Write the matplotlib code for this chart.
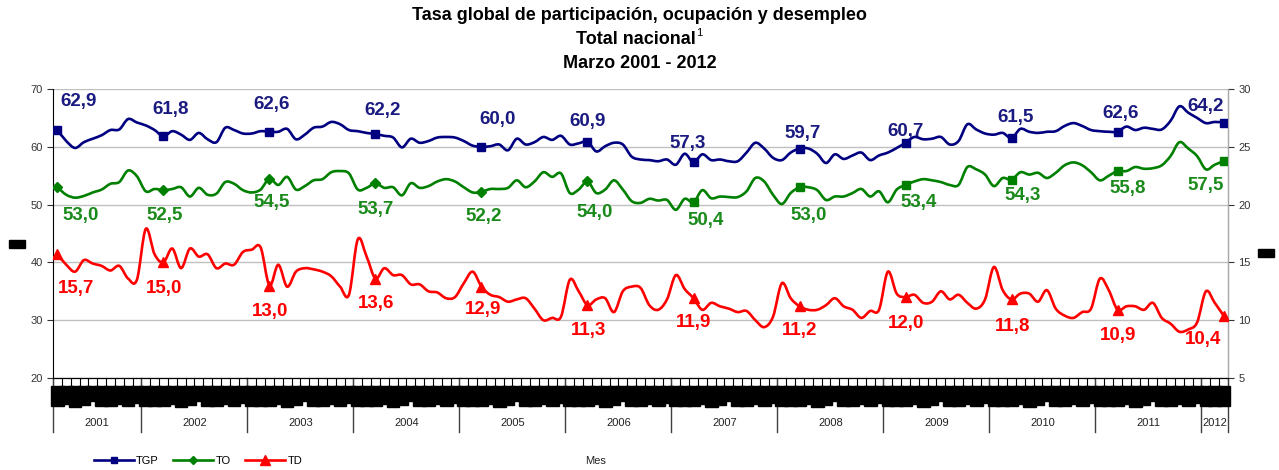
import numpy as np
import matplotlib
matplotlib.use("Agg")
import matplotlib.pyplot as plt
import matplotlib.transforms as mtransforms
from matplotlib.lines import Line2D
from matplotlib.path import Path
from matplotlib.patches import PathPatch

# ============================================================
# DATOS (marzo 2001 - marzo 2012, mensual)
# ============================================================

meses_abrev = ["Mar", "Abr", "May", "Jun", "Jul", "Ago", "Sep", "Oct", "Nov", "Dic", "Ene", "Feb"]
anios = ["2001", "2002", "2003", "2004", "2005", "2006", "2007", "2008", "2009", "2010", "2011", "2012"]

tgp = [62.9, 61.0, 59.8, 60.8, 61.4, 62.0, 62.9, 63.0, 64.8, 64.2, 63.7, 62.9,
       61.8, 62.7, 62.1, 61.2, 62.4, 61.3, 60.8, 63.3, 62.9, 62.3, 62.3, 62.7,
       62.6, 62.6, 63.1, 61.3, 62.1, 63.3, 63.5, 64.3, 63.9, 62.9, 62.7, 62.4,
       62.2, 61.9, 61.6, 59.9, 61.4, 60.7, 61.0, 61.6, 61.7, 61.6, 61.0, 60.2,
       60.0, 60.1, 60.4, 59.4, 61.4, 60.4, 60.8, 61.7, 61.2, 61.9, 60.4, 60.6,
       60.9, 59.2, 60.1, 60.7, 60.4, 58.3, 57.8, 57.7, 57.5, 57.8, 56.9, 58.8,
       57.3, 58.7, 57.7, 57.8, 57.5, 57.5, 59.0, 60.7, 59.7, 58.1, 57.7, 59.0,
       59.7, 59.7, 58.8, 57.2, 58.7, 57.9, 58.5, 59.0, 57.7, 58.5, 59.0, 59.8,
       60.7, 61.7, 61.3, 61.4, 61.7, 60.4, 61.0, 63.9, 63.0, 62.3, 62.1, 62.4,
       61.5, 63.1, 62.6, 62.4, 62.6, 62.7, 63.6, 64.1, 63.6, 62.9, 62.7, 62.6,
       62.6, 63.5, 62.9, 63.3, 63.1, 63.0, 64.5, 67.0, 65.9, 65.0, 64.1, 64.3,
       64.2]

to = [53.0, 51.7, 51.2, 51.5, 52.1, 52.6, 53.6, 53.9, 55.9, 54.9, 52.3, 52.7,
      52.5, 52.7, 53.0, 51.4, 52.9, 51.7, 51.9, 53.9, 53.6, 52.5, 52.1, 52.6,
      54.5, 53.4, 54.8, 52.6, 53.2, 54.2, 54.4, 55.6, 55.8, 55.4, 52.6, 52.9,
      53.7, 52.9, 53.0, 51.6, 53.7, 52.9, 53.2, 54.0, 54.4, 54.0, 53.0, 52.1,
      52.2, 52.7, 52.7, 52.9, 54.2, 53.0, 54.0, 55.6, 54.8, 55.4, 52.0, 52.6,
      54.0, 52.0, 52.6, 54.2, 52.6, 50.6, 50.3, 51.0, 50.7, 50.8, 49.1, 51.0,
      50.4, 52.5, 51.1, 51.4, 51.3, 51.3, 52.3, 54.6, 54.0, 51.7, 50.1, 52.0,
      53.0, 53.0, 52.5, 50.8, 51.4, 51.4, 52.0, 52.7, 51.4, 52.3, 50.4, 52.6,
      53.4, 54.0, 54.4, 54.2, 53.9, 53.4, 53.4, 56.5, 56.1, 55.2, 53.2, 54.6,
      54.3, 55.6, 55.2, 55.5, 54.6, 55.5, 56.8, 57.3, 56.8, 55.6, 54.2, 55.0,
      55.8, 55.8, 56.5, 56.2, 56.3, 56.8, 58.4, 60.8, 59.7, 58.4, 56.1, 56.9,
      57.5]

td = [15.7, 14.8, 14.2, 15.2, 14.9, 14.7, 14.3, 14.7, 13.6, 13.5, 17.9, 15.7,
      15.0, 16.2, 14.5, 16.2, 15.5, 15.7, 14.5, 14.9, 14.8, 15.9, 16.1, 16.3,
      13.0, 14.8, 12.9, 14.2, 14.5, 14.4, 14.2, 13.8, 12.9, 12.2, 17.0, 15.5,
      13.6, 14.5, 13.9, 13.9, 13.1, 13.1, 12.5, 12.4, 11.9, 12.0, 13.2, 14.2,
      12.9, 12.2, 12.0, 11.6, 11.8, 11.9, 11.0, 10.0, 10.2, 10.3, 13.5, 12.5,
      11.3, 11.8, 11.9, 10.7, 12.5, 12.9, 12.8, 11.3, 10.9, 11.8, 13.9, 12.7,
      11.9, 10.9, 11.5, 11.2, 11.0, 10.7, 10.8, 10.0, 9.4, 10.3, 13.2, 11.9,
      11.2, 10.9, 10.9, 11.3, 11.9, 11.2, 10.9, 10.2, 10.8, 10.9, 14.2, 12.3,
      12.0, 12.2, 11.5, 11.6, 12.5, 11.8, 12.2, 11.5, 11.0, 11.8, 14.6, 12.6,
      11.8, 12.3, 12.3, 11.6, 12.6, 11.0, 10.4, 10.2, 10.7, 11.0, 13.6, 12.6,
      10.9, 11.2, 11.2, 10.9, 11.5, 10.2, 9.7, 9.0, 9.2, 9.8, 12.5, 11.5,
      10.4]

# desplazamientos de etiquetas (pixeles) para cada marzo
off_tgp = [(21, 29), (7, 27), (2, 27), (7, 24), (16, 27), (0, 20),
           (-6, 19), (3, 15), (0, 11), (4, 21), (3, 18), (-18, 16)]
off_to = [(23, -28), (1, -25), (2, -24), (0, -26), (2, -25), (7, -31),
          (12, -18), (9, -28), (13, -18), (11, -16), (10, -17), (-18, -24)]
off_td = [(19, -34), (1, -26), (1, -26), (1, -25), (2, -23), (1, -25),
          (0, -24), (0, -24), (1, -26), (1, -27), (0, -26), (-21, -24)]

# ============================================================
# FIGURA
# ============================================================

plt.rcParams["font.family"] = ["Liberation Sans", "DejaVu Sans"]

C_TGP = "#000080"
C_TO = "#008000"
C_TD = "#ff0000"

n = len(tgp)
x = np.arange(n)
marzos = x[::12]


def linea_suave(axis, xs, ys, color):
    # curva suavizada tipo Excel (Bezier entre los puntos mensuales)
    p = np.column_stack([xs, ys]).astype(float)
    verts = [p[0]]
    codes = [Path.MOVETO]
    for i in range(len(p) - 1):
        a = p[i - 1] if i > 0 else p[i]
        b = p[i]
        c = p[i + 1]
        d = p[i + 2] if i + 2 < len(p) else p[i + 1]
        verts += [b + (c - a) / 6, c - (d - b) / 6, c]
        codes += [Path.CURVE4] * 3
    patch = PathPatch(Path(verts, codes), facecolor="none", edgecolor=color,
                      linewidth=1.9, zorder=3, capstyle="round", joinstyle="round")
    axis.add_patch(patch)


fig = plt.figure(figsize=(12.79, 4.70), dpi=100)
ax = fig.add_axes([53 / 1279, 1 - 378 / 470, (1228 - 53) / 1279, (378 - 89) / 470])
ax2 = ax.twinx()

ax.set_xlim(-0.5, n - 0.5)
ax.set_ylim(20, 70)
ax2.set_ylim(5, 30)
ax.set_yticks(np.arange(20, 71, 10))
ax2.set_yticks(np.arange(5, 31, 5))
ax.grid(axis="y", color="#c0c0c0", linewidth=1.0)
ax.set_axisbelow(True)

ax.spines["top"].set_visible(False)
ax2.spines["top"].set_visible(False)
ax.spines["left"].set_color("black")
ax2.spines["right"].set_color("#a8a8a8")
ax2.spines["left"].set_visible(False)
ax.tick_params(axis="y", labelsize=8, length=4, colors="#333333")
ax2.tick_params(axis="y", labelsize=8, length=4, colors="#333333")

ax.set_xticks(np.arange(-0.5, n, 1))
ax.tick_params(axis="x", length=9, width=0.8, labelbottom=False)

# series
linea_suave(ax, x, tgp, C_TGP)
ax.plot(marzos, [tgp[i] for i in marzos], "s", color=C_TGP, markersize=5.5, zorder=4)

linea_suave(ax, x, to, C_TO)
m_rombo = [i for i in marzos if i <= 60]
m_cuad = [i for i in marzos if i > 60]
ax.plot(m_rombo, [to[i] for i in m_rombo], "D", color=C_TO, markersize=5, zorder=4)
ax.plot(m_cuad, [to[i] for i in m_cuad], "s", color=C_TO, markersize=5.5, zorder=4)

linea_suave(ax2, x, td, C_TD)
ax2.plot(marzos, [td[i] for i in marzos], "^", color=C_TD, markersize=7, zorder=4)


def etiqueta(axis, serie, offs, color):
    for k, i in enumerate(marzos):
        axis.annotate(f"{serie[i]:.1f}".replace(".", ","), (i, serie[i]),
                      xytext=offs[k], textcoords="offset pixels",
                      ha="center", va="center", fontsize=13.5,
                      fontweight="bold", color=color)


etiqueta(ax, tgp, off_tgp, "#1a1a80")
etiqueta(ax, to, off_to, "#1a8a1a")
etiqueta(ax2, td, off_td, C_TD)

# etiquetas de meses (bloques negros) y años
trans = mtransforms.blended_transform_factory(ax.transData, ax.transAxes)
for i in x:
    ax.text(i, -0.033, meses_abrev[i % 12], transform=trans, rotation=90,
            ha="center", va="top", fontsize=7, color="black",
            bbox=dict(facecolor="black", edgecolor="black", pad=1.0))

limites = [-0.5] + [9.5 + 12 * k for k in range(11)] + [n - 0.5]
for b in limites:
    ax.add_line(Line2D([b, b], [0, -0.187], transform=trans, color="#404040",
                       linewidth=1.0, clip_on=False))
for k, a in enumerate(anios):
    xc = (limites[k] + limites[k + 1]) / 2
    ax.text(xc, -0.155, a, transform=trans, ha="center", va="center",
            fontsize=8, color="#222222")

# etiquetas de ejes (bloques)
fig.text(17 / 1279, 1 - 244 / 470, "% %", fontsize=4.5, ha="center", va="center",
         color="black", bbox=dict(facecolor="black", edgecolor="black", pad=1.2))
fig.text(1266 / 1279, 1 - 253 / 470, "% %", fontsize=4.5, ha="center", va="center",
         color="black", bbox=dict(facecolor="black", edgecolor="black", pad=1.2))

fig.text(596 / 1279, 1 - 461 / 470, "Mes", fontsize=8, ha="center", va="center",
         color="#222222")

# título
fig.text(0.5, 1 - 15 / 470, "Tasa global de participación, ocupación y desempleo",
         fontsize=13, fontweight="bold", ha="center", va="center")
t2 = fig.text(0.497, 1 - 39 / 470, "Total nacional", fontsize=13,
              fontweight="bold", ha="center", va="center")
fig.text(0.5, 1 - 63 / 470, "Marzo 2001 - 2012", fontsize=13,
         fontweight="bold", ha="center", va="center")

renderer = fig.canvas.get_renderer()
bb = t2.get_window_extent(renderer)
fig.text((bb.x1 + 1) / 1279, (bb.y1 - 3) / 470, "1", fontsize=8,
         ha="left", va="center")

# leyenda
handles = [
    Line2D([], [], color=C_TGP, linewidth=1.9, marker="s", markersize=5),
    Line2D([], [], color=C_TO, linewidth=1.9, marker="D", markersize=4.5),
    Line2D([], [], color=C_TD, linewidth=1.9, marker="^", markersize=6.5),
]
fig.legend(handles, ["TGP", "TO", "TD"], loc="center left",
           bbox_to_anchor=(84 / 1279, 1 - 461 / 470), ncol=3, frameon=False,
           fontsize=8, handlelength=3.6, handletextpad=0.2, columnspacing=1.3)

plt.savefig("out.png", dpi=100)
